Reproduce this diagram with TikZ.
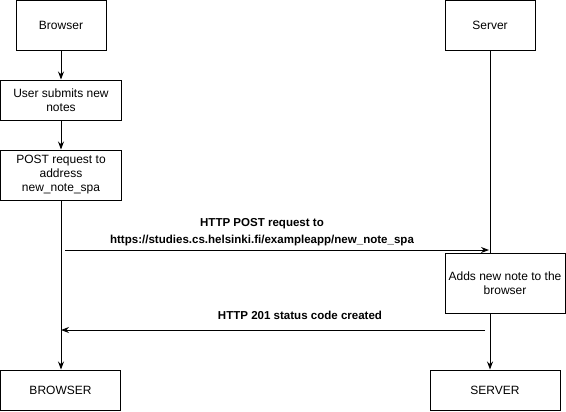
\documentclass[tikz,border=0pt]{standalone}
\usepackage{fontspec}
\setmainfont{Liberation Sans}
\usetikzlibrary{arrows.meta}
\begin{document}
\begin{tikzpicture}[x=0.75pt,y=-0.75pt,
  box/.style={draw,line width=0.75pt,inner sep=0pt,align=center,font=\fontsize{9}{10.5}\selectfont},
  conn/.style={line width=0.75pt},
  arr/.style={line width=0.75pt,-{Stealth[length=6pt,width=4.5pt]}},
  lbl/.style={font=\bfseries\fontsize{8.65}{12.8}\selectfont,align=center,inner sep=0pt}]
\useasboundingbox (0,0) rectangle (566,411);
\node[box,minimum width=90*0.75pt,minimum height=50*0.75pt] (browser) at (61,25) {Browser};
\node[box,minimum width=121*0.75pt,minimum height=40*0.75pt] (user) at (61,100) {User submits new\\notes};
\node[box,minimum width=121*0.75pt,minimum height=50*0.75pt] (post) at (61,175) {POST request to\\address\\new\_note\_spa};
\node[box,minimum width=90*0.75pt,minimum height=50*0.75pt] (server) at (490,25) {Server};
\node[box,minimum width=120*0.75pt,minimum height=60*0.75pt] (adds) at (505,283) {Adds new note to the\\browser};
\node[box,minimum width=120*0.75pt,minimum height=40*0.75pt] (browserB) at (60.5,390) {BROWSER};
\node[box,minimum width=130*0.75pt,minimum height=40*0.75pt] (serverB) at (495,390) {SERVER};
\draw[arr] (browser) -- (user);
\draw[arr] (user) -- (post);
\draw[arr] (post.south) -- (post.south |- browserB.north);
\draw[conn] (server.south) -- (server.south |- adds.north);
\draw[arr] (server.south |- adds.south) -- (server.south |- serverB.north);
\coordinate (reqA) at (65,250);
\coordinate (reqB) at (489,250);
\coordinate (resA) at (485,330);
\coordinate (resB) at (61,330);
\draw[arr] (reqA) -- (reqB);
\draw[arr] (resA) -- (resB);
\node[lbl] (reqlbl) at (262,232) {HTTP POST request to\\https://studies.cs.helsinki.fi/exampleapp/new\_note\_spa};
\node[lbl] (reslbl) at (300,315) {HTTP 201 status code created};
\end{tikzpicture}
\end{document}
